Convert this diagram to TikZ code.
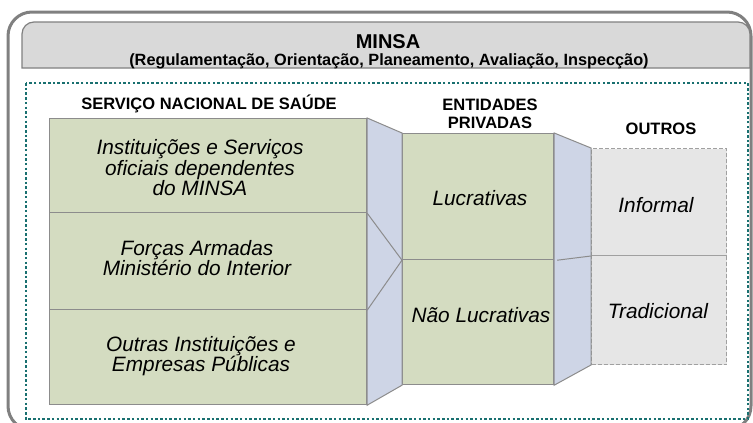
\documentclass[tikz,border=0pt]{standalone}
\usepackage{fontspec}
\setmainfont{Liberation Sans}
\usetikzlibrary{calc}
\definecolor{boxgreen}{RGB}{212,220,193}
\definecolor{connblue}{RGB}{206,213,230}
\definecolor{othergray}{RGB}{230,230,230}
\definecolor{hdrgray}{RGB}{217,217,217}
\definecolor{framegray}{RGB}{128,128,128}
\definecolor{edgegray}{RGB}{140,140,140}
\definecolor{dashgray}{RGB}{160,160,160}
\definecolor{dotteal}{RGB}{25,112,112}
\tikzset{
  greenbox/.style={draw=edgegray, line width=1.2pt, fill=boxgreen, anchor=north west, inner sep=0pt},
  otherbox/.style={draw=dashgray, line width=1pt, dash pattern=on 4pt off 2pt, fill=othergray, anchor=north west, inner sep=0pt},
  itxt/.style={font=\fontsize{20.8}{20.5}\selectfont\itshape, align=center, inner sep=0pt},
  headtxt/.style={font=\fontsize{16.5}{18}\selectfont\bfseries, align=center, inner sep=0pt},
  connector/.style={fill=connblue, draw=edgegray, line width=1pt},
  splitline/.style={draw=edgegray, line width=1pt},
}
\begin{document}
\begin{tikzpicture}[x=1pt,y=-1pt]
\useasboundingbox (0,0) rectangle (753,423);
\clip (0,0) rectangle (753,423);
\fill[white] (0,0) rectangle (753,423);
% outer frame
\draw[framegray, line width=3pt, rounded corners=24pt] (8,12) rectangle (751,430);
% header
\draw[fill=hdrgray, draw=framegray, line width=1.2pt] (22,68) {[rounded corners=12pt] -- (22,22) -- (750,22)} -- (750,68) -- cycle;
\node[font=\fontsize{20}{22}\selectfont\bfseries, inner sep=0pt] (minsa) at (388,42) {MINSA};
\node[font=\fontsize{16.3}{17}\selectfont\bfseries, inner sep=0pt] (minsasub) at (389,61) {(Regulamentação, Orientação, Planeamento, Avaliação, Inspecção)};
% dotted area
\draw[dotteal, line width=2.5pt, dash pattern=on 2.5pt off 2.2pt] (26,83) rectangle (748,419);
% headers
\node[headtxt] (h1) at (209,104) {SERVIÇO NACIONAL DE SAÚDE};
\node[headtxt] (h2) at (490,114) {ENTIDADES\\PRIVADAS};
\node[headtxt] (h3) at (661,129) {OUTROS};
% boxes
\node[greenbox, minimum width=317pt, minimum height=94pt] (sns1) at (49,118) {};
\node[greenbox, minimum width=317pt, minimum height=97pt] (sns2) at (49,212) {};
\node[greenbox, minimum width=317pt, minimum height=95pt] (sns3) at (49,309) {};
\node[greenbox, minimum width=151pt, minimum height=126pt] (lucr) at (402,133) {};
\node[greenbox, minimum width=151pt, minimum height=125pt] (naolucr) at (402,259) {};
\node[otherbox, minimum width=135pt, minimum height=107pt] (inf) at (591,148) {};
\node[otherbox, minimum width=135pt, minimum height=109pt] (trad) at (591,255) {};
% connectors
\draw[connector] (sns1.north east) -- (lucr.north west) -- (naolucr.south west) -- (sns3.south east) -- cycle;
\draw[splitline] (sns1.south east) -- (lucr.south west) -- (sns2.south east);
\draw[connector] (lucr.north east) -- (inf.north west) -- (trad.south west) -- (naolucr.south east) -- cycle;
\draw[splitline] ([xshift=3pt]lucr.south east) -- (inf.south west);
% texts
\node[itxt] (t1) at (200,168) {Instituições e Serviços\\oficiais dependentes\\do MINSA};
\node[itxt] (t2) at (197,258) {Forças Armadas\\Ministério do Interior};
\node[itxt] (t3) at (201,356) {Outras Instituições e\\Empresas Públicas};
\node[itxt] (t4) at (480,198) {Lucrativas};
\node[itxt] (t5) at (481,315) {Não Lucrativas};
\node[itxt] (t6) at (656,205) {Informal};
\node[itxt] (t7) at (658,311) {Tradicional};
\end{tikzpicture}
\end{document}
